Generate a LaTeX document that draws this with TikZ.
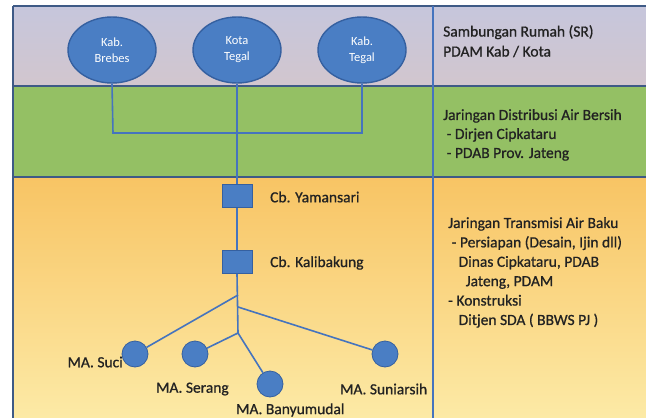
\documentclass[tikz,border=0pt]{standalone}
\usepackage{fontspec}
\setmainfont{Carlito}
\newfontfamily\heavyfont[FakeBold=0.8]{Carlito}
\usetikzlibrary{shapes.geometric}
\definecolor{bandA}{HTML}{C6C6DC}
\definecolor{bandAb}{HTML}{D2C6CE}
\definecolor{bandB}{HTML}{94C064}
\definecolor{bandC}{HTML}{F8C464}
\definecolor{bandCb}{HTML}{FCEAA6}
\definecolor{shapefill}{HTML}{4A7EC4}
\definecolor{shapeline}{HTML}{3560A0}
\definecolor{pipe}{HTML}{4574BE}
\definecolor{frame}{HTML}{3E5A86}
\definecolor{txt}{HTML}{222222}
\tikzset{
  cityell/.style={ellipse, draw=shapeline, line width=1.4pt, fill=shapefill, minimum width=88pt, minimum height=66pt, inner sep=0pt, text=white, font=\fontsize{12.5}{16}\selectfont, align=center},
  damsq/.style={rectangle, draw=shapeline, line width=0.8pt, fill=shapefill, minimum width=30pt, minimum height=23pt, inner sep=0pt},
  srcdot/.style={circle, draw=shapeline, line width=0.8pt, fill=shapefill, minimum size=26pt, inner sep=0pt},
  pipeline/.style={draw=pipe, line width=1.6pt},
  lbl/.style={text=txt, font=\heavyfont\fontsize{15.5}{17}\selectfont, inner sep=0pt},
  side/.style={text=txt, align=left, inner sep=0pt, anchor=north west}
}
\begin{document}
\begin{tikzpicture}[x=1pt,y=-1pt]
\useasboundingbox (0,0) rectangle (646,418);
\fill[white] (0,0) rectangle (646,418);
% bands
\shade[top color=bandA, bottom color=bandAb] (13,6) rectangle (646,86);
\fill[bandB] (13,86) rectangle (646,177);
\shade[top color=bandC, bottom color=bandCb] (13,177) rectangle (646,418);
% frame lines
\draw[frame, line width=1.5pt] (13,6) -- (646,6);
\draw[frame, line width=1.5pt] (13,86) -- (646,86);
\draw[frame, line width=1.5pt] (13,177) -- (646,177);
\draw[frame, line width=1.5pt] (13,6) -- (13,418);
\draw[pipe, line width=1.2pt] (433,6) -- (433,418);
% nodes
\node[cityell] (brebes) at (112,50) {Kab.\\Brebes};
\node[cityell] (kota) at (237,50) {Kota\\Tegal};
\node[cityell] (kabtegal) at (362,50) {Kab.\\Tegal};
\coordinate (jl) at (113,133);
\coordinate (jc) at (237,133);
\coordinate (jr) at (362,133);
\node[damsq] (yaman) at (237,196) {};
\node[damsq] (kali) at (237,262) {};
\node[lbl, anchor=west] (yamanl) at (270,197) {Cb. Yamansari};
\node[lbl, anchor=west] (kalil) at (270,263) {Cb. Kalibakung};
\coordinate (b1) at (238,295);
\coordinate (b2) at (238,307);
\coordinate (b3) at (238,333);
\node[srcdot] (suci) at (135,354) {};
\node[srcdot] (serang) at (195,354) {};
\node[srcdot] (banyu) at (270,384) {};
\node[srcdot] (suni) at (385,354) {};
\node[lbl, anchor=east] (sucil) at (123,362) {MA. Suci};
\node[lbl, anchor=west] (serangl) at (156,389) {MA. Serang};
\node[lbl, anchor=west] (banyul) at (236,410) {MA. Banyumudal};
\node[lbl, anchor=west] (sunil) at (340,389) {MA. Suniarsih};
% pipes
\draw[pipeline] (brebes.south) -- (jl) -- (jr) -- (kabtegal.south);
\draw[pipeline] (kota.south) -- (yaman.north);
\draw[pipeline] (yaman.south) -- (kali.north);
\draw[pipeline] (kali.south) -- (b3);
\draw[pipeline] (b1) -- (suci);
\draw[pipeline] (b2) -- (suni);
\draw[pipeline] (b3) -- (serang);
\draw[pipeline] (b3) -- (banyu);
% side texts
\node[side, font=\heavyfont\fontsize{15.5}{20}\selectfont] (srtext) at (443,25) {Sambungan Rumah (SR)\\PDAM Kab / Kota};
\node[side, font=\heavyfont\fontsize{15.5}{19}\selectfont] (distext) at (443,109) {Jaringan Distribusi Air Bersih\\\ - Dirjen Cipkataru\\\ - PDAB Prov. Jateng};
\node[side, font=\heavyfont\fontsize{15.5}{19.4}\selectfont] (trtext) at (448,217) {Jaringan Transmisi Air Baku\\\ - Persiapan (Desain, Ijin dll)\\\ \ \ Dinas Cipkataru, PDAB\\\ \ \ \ \ Jateng, PDAM\\- Konstruksi\\\ \ \ Ditjen SDA ( BBWS PJ )};
\end{tikzpicture}
\end{document}
